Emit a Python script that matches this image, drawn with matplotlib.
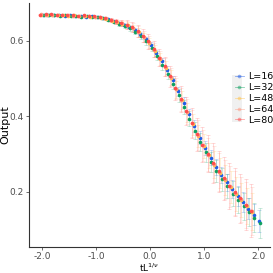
import numpy as np
import matplotlib
matplotlib.use('Agg')
import matplotlib.pyplot as plt
from matplotlib.lines import Line2D
from matplotlib.patches import Rectangle

nan = np.nan

# scaling variable tL^(1/nu), same grid for every size
x_vals = np.round(np.arange(-2.0, 2.01, 0.1), 2)

sizes = [16, 32, 48, 64, 80]
colors = ['#1f5ce6', '#0fa060', '#ffc34d', '#ff9980', '#ff4d4d']
x_shift = [0.02, 0.03, -0.01, -0.02, -0.03]

out_16 = [0.668, 0.669, 0.667, 0.668, 0.666, 0.667, 0.665, 0.666, 0.664, 0.665, 0.663,
          0.660, 0.657, 0.652, 0.647, 0.642, 0.637, 0.629, 0.618, 0.604, 0.589,
          0.568, 0.545, 0.522, 0.496, 0.466, 0.436, 0.405, 0.373, 0.343, 0.316,
          0.290, 0.266, 0.244, 0.225, 0.206, 0.189, 0.172, 0.155, 0.139, 0.123]
out_32 = [0.667, 0.668, 0.668, 0.666, 0.667, 0.665, 0.666, 0.664, 0.665, 0.663, 0.662,
          0.659, 0.655, 0.649, 0.644, 0.639, 0.633, 0.624, 0.612, 0.598, 0.582,
          0.560, 0.536, 0.512, 0.486, 0.455, 0.425, 0.393, 0.362, 0.331, 0.304,
          0.279, 0.255, 0.233, 0.214, 0.195, 0.178, 0.161, 0.145, 0.131, 0.117]
out_48 = [0.669, 0.668, 0.669, 0.667, 0.668, 0.666, 0.667, 0.665, 0.666, 0.664, 0.663,
          0.661, 0.658, 0.653, 0.649, 0.645, 0.641, 0.634, 0.622, 0.609, 0.594,
          0.573, 0.551, 0.528, 0.502, 0.471, 0.442, 0.410, 0.379, 0.348, 0.321,
          0.296, 0.272, 0.250, 0.231, 0.212, 0.195, 0.178, 0.162, 0.147, nan]
out_64 = [0.670, 0.669, 0.668, 0.668, 0.667, 0.667, 0.666, 0.666, 0.665, 0.665, 0.664,
          0.662, 0.659, 0.654, 0.650, 0.646, 0.642, 0.635, 0.624, 0.611, 0.596,
          0.575, 0.553, 0.530, 0.504, 0.473, 0.444, 0.412, 0.381, 0.350, 0.323,
          0.298, 0.274, 0.252, 0.233, 0.214, 0.197, 0.180, 0.164, 0.149, nan]
out_80 = [0.669, 0.670, 0.671, 0.668, 0.669, 0.667, 0.668, 0.666, 0.667, 0.665, 0.665,
          0.663, 0.660, 0.655, 0.651, 0.647, 0.643, 0.637, 0.626, 0.613, 0.598,
          0.577, 0.555, 0.532, 0.506, 0.475, 0.446, 0.414, 0.383, 0.352, 0.325,
          0.300, 0.276, 0.254, 0.235, 0.216, 0.199, 0.182, 0.166, 0.150, nan]

err_16 = [0.001, 0.001, 0.001, 0.001, 0.001, 0.001, 0.001, 0.001, 0.001, 0.001, 0.001,
          0.001, 0.002, 0.002, 0.003, 0.004, 0.004, 0.005, 0.006, 0.007, 0.008,
          0.008, 0.009, 0.010, 0.011, 0.012, 0.014, 0.015, 0.016, 0.017, 0.018,
          0.020, 0.021, 0.022, 0.023, 0.024, 0.026, 0.026, 0.027, 0.028, 0.029]
err_32 = [0.001, 0.001, 0.001, 0.001, 0.001, 0.001, 0.001, 0.001, 0.001, 0.001, 0.001,
          0.002, 0.002, 0.003, 0.004, 0.005, 0.006, 0.007, 0.008, 0.009, 0.010,
          0.012, 0.013, 0.014, 0.015, 0.017, 0.019, 0.020, 0.022, 0.024, 0.025,
          0.027, 0.029, 0.030, 0.032, 0.034, 0.035, 0.036, 0.037, 0.039, 0.040]
err_48 = [0.001, 0.001, 0.001, 0.001, 0.001, 0.001, 0.001, 0.001, 0.001, 0.001, 0.001,
          0.002, 0.003, 0.004, 0.005, 0.006, 0.008, 0.009, 0.011, 0.012, 0.013,
          0.015, 0.016, 0.018, 0.020, 0.022, 0.024, 0.026, 0.028, 0.030, 0.032,
          0.034, 0.036, 0.039, 0.041, 0.043, 0.045, 0.046, 0.048, 0.049, nan]
err_64 = [0.002, 0.002, 0.002, 0.002, 0.002, 0.002, 0.002, 0.002, 0.002, 0.002, 0.002,
          0.003, 0.004, 0.005, 0.006, 0.008, 0.010, 0.012, 0.014, 0.015, 0.017,
          0.019, 0.021, 0.023, 0.025, 0.028, 0.031, 0.033, 0.036, 0.039, 0.041,
          0.044, 0.047, 0.050, 0.052, 0.055, 0.058, 0.059, 0.061, 0.063, nan]
err_80 = [0.002, 0.002, 0.002, 0.002, 0.002, 0.002, 0.002, 0.002, 0.002, 0.002, 0.002,
          0.003, 0.004, 0.005, 0.007, 0.009, 0.011, 0.013, 0.015, 0.017, 0.019,
          0.021, 0.023, 0.026, 0.028, 0.031, 0.034, 0.037, 0.040, 0.043, 0.046,
          0.049, 0.052, 0.055, 0.058, 0.061, 0.064, 0.066, 0.068, 0.070, nan]

outputs = [out_16, out_32, out_48, out_64, out_80]
errors = [err_16, err_32, err_48, err_64, err_80]

fig = plt.figure(figsize=(2.73, 2.73), dpi=100)
ax = fig.add_axes([0.106, 0.096, 0.883, 0.893])
ax.patch.set_visible(False)

for L, col, dx, y, e in zip(sizes, colors, x_shift, outputs, errors):
    xs = x_vals + dx
    ax.errorbar(xs, y, yerr=e, fmt='none', ecolor=col, alpha=0.25,
                elinewidth=0.6, capsize=1.5, capthick=0.6)
for L, col, dx, y in zip(sizes, colors, x_shift, outputs):
    ax.plot(x_vals + dx, y, 'o', color=col, markersize=2.6, markeredgewidth=0)

ax.set_xlim(-2.24, 2.22)
ax.set_ylim(0.054, 0.70)
ax.set_xticks([-2.0, -1.0, 0.0, 1.0, 2.0])
ax.set_xticklabels(['-2.0', '-1.0', '0.0', '1.0', '2.0'])
ax.set_yticks([0.2, 0.4, 0.6])
ax.set_yticklabels(['0.2', '0.4', '0.6'])

for s in ['top', 'right']:
    ax.spines[s].set_visible(False)
for s in ['left', 'bottom']:
    ax.spines[s].set_color('#333333')
    ax.spines[s].set_linewidth(0.8)
ax.tick_params(axis='both', length=2, width=0.5, color='#333333',
               labelsize=6.5, labelcolor='#4d4d4d', pad=1.5)

ax.set_ylabel('Output', fontsize=8)
ax.yaxis.set_label_coords(-0.075, 0.5)
ax.set_xlabel(r'tL$^{1/\nu}$', fontsize=6.5, labelpad=1)

handles = [Line2D([0], [0], color=c, lw=0.6, alpha=0.5, marker='o', markersize=2.6,
                  markerfacecolor=c, markeredgewidth=0) for c in colors]
labels = ['L=%d' % L for L in sizes]
fig.patches.append(Rectangle((232 / 273, 1 - 122 / 273), 10 / 273, 47 / 273,
                             transform=fig.transFigure, facecolor='#f0f0f0',
                             edgecolor='none', zorder=0))
leg = fig.legend(handles, labels, loc='center left', bbox_to_anchor=(228 / 273, 1 - 98.5 / 273),
                 frameon=False, fontsize=6.8, handlelength=1.0, handletextpad=0.4,
                 labelspacing=0.2, borderpad=0.2)

fig.savefig('out.png', dpi=100)
